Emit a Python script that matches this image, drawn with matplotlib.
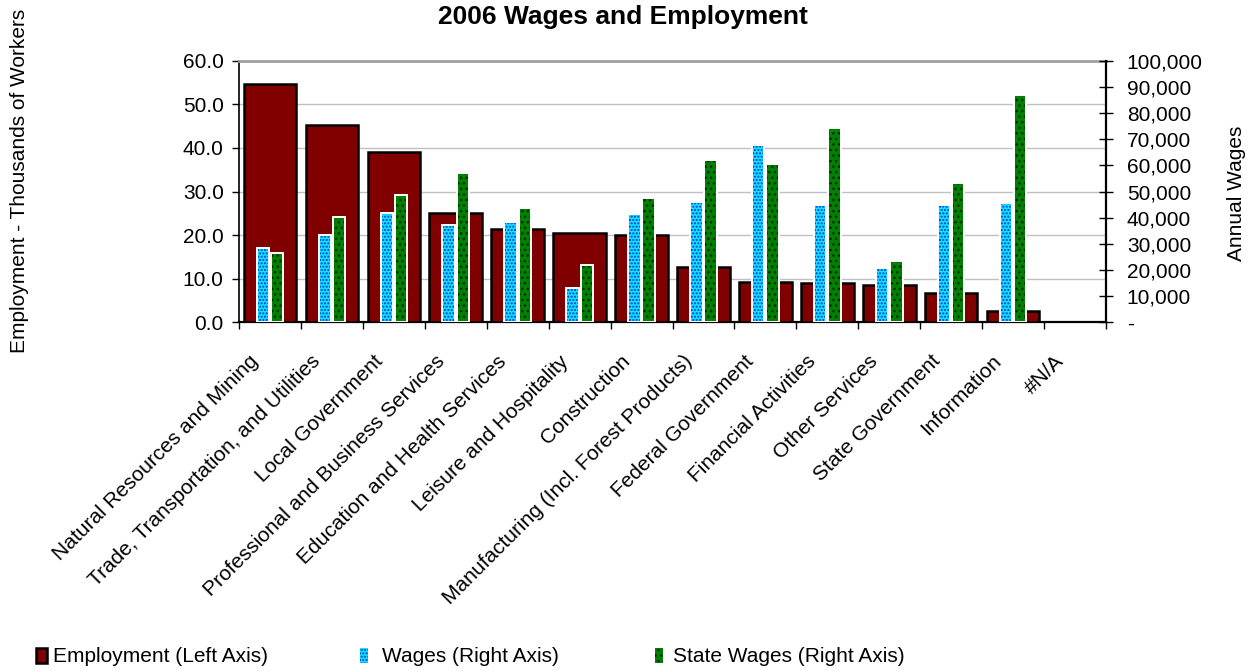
import numpy as np
import matplotlib
matplotlib.use('Agg')
import matplotlib.pyplot as plt
from matplotlib.patches import Patch
from matplotlib.ticker import FuncFormatter, MultipleLocator, FixedLocator

categories = ["Natural Resources and Mining", "Trade, Transportation, and Utilities",
              "Local Government", "Professional and Business Services",
              "Education and Health Services", "Leisure and Hospitality",
              "Construction", "Manufacturing (Incl. Forest Products)",
              "Federal Government", "Financial Activities", "Other Services",
              "State Government", "Information", "#N/A"]
employment = [54.6, 45.3, 39.1, 25.1, 21.4, 20.4, 20.0, 12.8, 9.3, 9.0, 8.7, 6.7, 2.6, np.nan]
wages = [28600, 33300, 41800, 37200, 38400, 13300, 41300, 46000, 67700, 44900, 20700, 44900, 45600, np.nan]
state_wages = [26500, 40300, 48800, 57000, 43800, 21800, 47400, 62100, 60400, 74200, 23500, 53200, 86800, np.nan]

plt.rcParams['font.family'] = ['Liberation Sans', 'DejaVu Sans']
plt.rcParams['hatch.linewidth'] = 1.0

FS = 15
EMP_C = '#800000'
WAGE_C = '#10E4FF'
WAGE_H = '#0030E0'
STATE_C = '#008000'
STATE_H = '#002800'

fig = plt.figure(figsize=(12.5, 6.71), dpi=100)
ax = fig.add_axes([0.1912, 0.5194, 0.6936, 0.3901])
x = np.arange(len(categories))

ax.bar(x, np.array(employment, float), width=0.85, color=EMP_C,
       edgecolor='black', linewidth=1.8, zorder=3)
ax.set_axisbelow(True)
ax.yaxis.grid(True, color='#C0C0C0', linewidth=1.0)
ax.set_ylim(0, 60)
ax.set_xlim(-0.5, len(categories) - 0.5)
ax.yaxis.set_major_locator(MultipleLocator(10))
ax.yaxis.set_major_formatter(FuncFormatter(lambda v, p: f'{v:.1f}'))
ax.tick_params(axis='y', direction='out', length=5, width=1, pad=6, labelsize=FS)

# category labels: anchored to the left of each category centre
ax.set_xticks(x - 0.34)
ax.set_xticklabels(categories, rotation=45, ha='right', va='top', rotation_mode='anchor', fontsize=FS)
ax.tick_params(axis='x', which='major', length=0, pad=21)
ax.xaxis.set_minor_locator(FixedLocator(np.arange(-0.5, len(categories), 1.0)))
ax.tick_params(axis='x', which='minor', direction='out', length=5, width=1)

ax2 = ax.twinx()
w = np.array(wages, float)
s = np.array(state_wages, float)
ax2.bar(x - 0.115, w, width=0.2, color=WAGE_C, edgecolor=WAGE_H, hatch='.....', linewidth=0, zorder=2)
ax2.bar(x - 0.115, w, width=0.2, facecolor='none', edgecolor='white', linewidth=1.4, zorder=3)
ax2.bar(x + 0.115, s, width=0.2, color=STATE_C, edgecolor=STATE_H, hatch='...', linewidth=0, zorder=2)
ax2.bar(x + 0.115, s, width=0.2, facecolor='none', edgecolor='white', linewidth=1.4, zorder=3)
ax2.set_ylim(0, 100000)
ax2.yaxis.set_major_locator(MultipleLocator(10000))
ax2.yaxis.set_major_formatter(FuncFormatter(lambda v, p: '-' if v == 0 else f'{int(round(v)):,}'))
ax2.tick_params(axis='y', direction='inout', length=10, width=1, pad=10, labelsize=FS)

ax.spines['top'].set_color('#A0A0A0')
ax.spines['top'].set_linewidth(2)
ax.spines['left'].set_linewidth(1.2)
ax.spines['bottom'].set_linewidth(1.6)
ax.spines['right'].set_visible(False)
for sp in ['top', 'left', 'bottom']:
    ax2.spines[sp].set_visible(False)
ax2.spines['right'].set_linewidth(1.6)

fig.text(623 / 1250, 1 - 17 / 671, '2006 Wages and Employment', ha='center', va='center',
         fontsize=19, fontweight='bold')
fig.text(20 / 1250, 1 - 181 / 671, 'Employment - Thousands of Workers', rotation=90,
         ha='center', va='center', fontsize=FS)
fig.text(1237 / 1250, 1 - 193 / 671, 'Annual Wages', rotation=90,
         ha='center', va='center', fontsize=FS)

ly = 1 - 657 / 671
h_emp = Patch(facecolor=EMP_C, edgecolor='black', linewidth=1.8)
h_w = Patch(facecolor=WAGE_C, edgecolor=WAGE_H, hatch='.....', linewidth=0)
h_s = Patch(facecolor=STATE_C, edgecolor=STATE_H, hatch='...', linewidth=0)
specs = [(h_emp, 'Employment (Left Axis)', 36, 0.55, 0.75, 0.25),
         (h_w, 'Wages (Right Axis)', 360, 0.38, 0.7, 0.7),
         (h_s, 'State Wages (Right Axis)', 655, 0.38, 0.7, 0.5)]
for h, lab, px, hl, hh, tp in specs:
    fig.legend(handles=[h], labels=[lab], loc='center left', bbox_to_anchor=(px / 1250, ly),
               frameon=False, fontsize=FS, handlelength=hl, handleheight=hh,
               handletextpad=tp, borderpad=0, borderaxespad=0)

fig.savefig('out.png', dpi=100)
